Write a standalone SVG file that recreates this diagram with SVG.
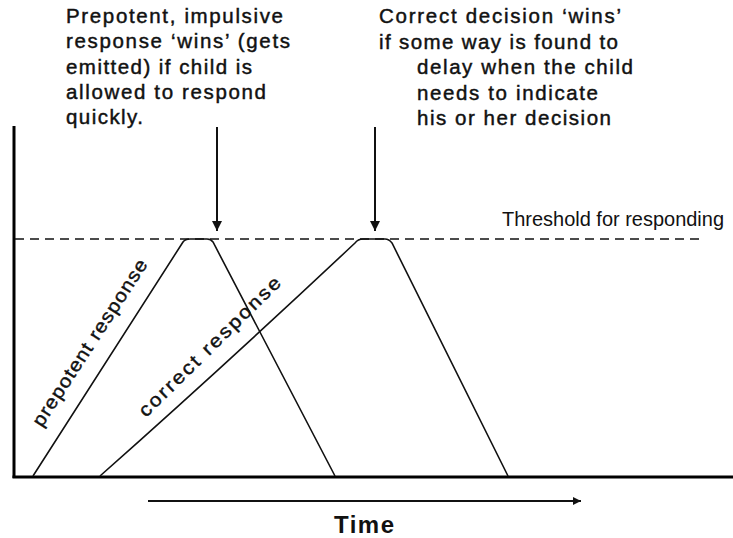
<svg xmlns="http://www.w3.org/2000/svg" width="733" height="538" viewBox="0 0 733 538">
<defs>
<style>
.t{font-family:"Liberation Sans",Arial,sans-serif;fill:#111;}
.top{font-size:20.5px;stroke:#111;stroke-width:0.45;}
.lab{font-size:19px;stroke:#111;stroke-width:0.4;}
.ln{fill:none;stroke:#111;stroke-width:1.6;}
.ax{fill:none;stroke:#000;stroke-width:3;}
</style>
<marker id="ah" viewBox="0 0 10 10" refX="10" refY="5" markerWidth="5" markerHeight="6" orient="auto" markerUnits="strokeWidth">
<path d="M0,0 L10,5 L0,10 z" fill="#111"/>
</marker>
<marker id="ah2" viewBox="0 0 10 10" refX="10" refY="5" markerWidth="4" markerHeight="4" orient="auto" markerUnits="strokeWidth">
<path d="M0,0 L10,5 L0,10 z" fill="#111"/>
</marker>
</defs>
<rect width="733" height="538" fill="#fff"/>
<g id="axes">
<line class="ax" x1="14" y1="126" x2="14" y2="478"/>
<line class="ax" x1="12.5" y1="477" x2="733" y2="477"/>
</g>
<g id="threshold">
<line x1="15" y1="239" x2="700" y2="239" stroke="#111" stroke-width="1.6" stroke-dasharray="9,6"/>
<text class="t" x="502" y="226" font-size="19.5" textLength="222" lengthAdjust="spacingAndGlyphs">Threshold for responding</text>
</g>
<g id="prepotent">
<path class="ln" d="M33,476 L183,242 Q185,239 190,239 L207,239 Q211,239 213,242 L335,476"/>
<text class="t lab" x="42" y="428" transform="rotate(-57 42 428)" letter-spacing="1" textLength="196" lengthAdjust="spacingAndGlyphs">prepotent  response</text>
</g>
<g id="correct">
<path class="ln" d="M100,476 Q222,368 355,243 Q358,239 363,239 L385,239 Q389,239 392,243 L508,476"/>
<text class="t lab" x="146" y="418" transform="rotate(-44.5 146 418)" letter-spacing="2" textLength="193" lengthAdjust="spacingAndGlyphs">correct response</text>
</g>
<g id="note-left">
<text class="t top" x="66" y="23" textLength="217">Prepotent, impulsive</text>
<text class="t top" x="66" y="48" textLength="224">response ‘wins’ (gets</text>
<text class="t top" x="66" y="74" textLength="186">emitted) if child is</text>
<text class="t top" x="66" y="99" textLength="200">allowed to respond</text>
<text class="t top" x="66" y="124" textLength="77">quickly.</text>
</g>
<g id="note-right">
<text class="t top" x="379" y="23" textLength="242">Correct decision ‘wins’</text>
<text class="t top" x="379" y="49" textLength="239">if some way is found to</text>
<text class="t top" x="417" y="74" textLength="216">delay when the child</text>
<text class="t top" x="417" y="100" textLength="181">needs to indicate</text>
<text class="t top" x="417" y="125" textLength="194">his or her decision</text>
</g>
<g id="connectors">
<line x1="217" y1="127" x2="217" y2="231" stroke="#111" stroke-width="2" marker-end="url(#ah)"/>
<line x1="375" y1="127" x2="375" y2="231" stroke="#111" stroke-width="2" marker-end="url(#ah)"/>
<line x1="148" y1="501" x2="581" y2="501" stroke="#111" stroke-width="2" marker-end="url(#ah2)"/>
</g>
<g id="time">
<text class="t" x="334" y="533" font-size="24" font-weight="bold" textLength="60">Time</text>
</g>
</svg>
